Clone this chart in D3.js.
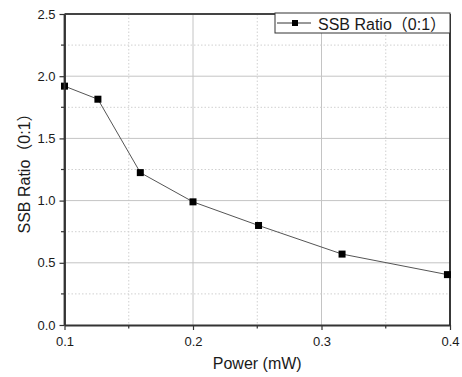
<!DOCTYPE html>
<html>
<head>
<meta charset="utf-8">
<script src="https://d3js.org/d3.v7.min.js"></script>
<style>
  body { margin: 0; background: #fff; }
  text { font-family: "Liberation Sans", Arial, "Noto Sans CJK SC", sans-serif; fill: #1a1a1a; }
</style>
</head>
<body>
<div id="chart"></div>
<script>
// Data
var powers = [0.1, 0.126, 0.159, 0.2, 0.251, 0.316, 0.398];
var ratios = [1.92, 1.815, 1.225, 0.99, 0.8, 0.57, 0.405];
var xTicks = [0.1, 0.2, 0.3, 0.4];
var xMinor = [0.15, 0.25, 0.35];
var yTicks = [0.0, 0.5, 1.0, 1.5, 2.0, 2.5];
var yMinor = [0.25, 0.75, 1.25, 1.75, 2.25];
var seriesName = "SSB Ratio\uFF080:1\uFF09";

var svgWidth = 462;
var svgHeight = 377;

var margin = { top: 14, bottom: 52, left: 64.5, right: 12 };
var width = svgWidth - margin.left - margin.right;
var height = svgHeight - margin.top - margin.bottom;

var svg = d3.select("#chart")
    .append("svg")
    .attr("width", svgWidth)
    .attr("height", svgHeight);

var chartGroup = svg.append("g")
    .attr("transform", `translate(${margin.left}, ${margin.top})`);

var xScale = d3.scaleLinear().domain([0.1, 0.4]).range([0, width]);
var yScale = d3.scaleLinear().domain([0, 2.5]).range([height, 0]);

// grid: major solid, minor dotted
chartGroup.selectAll(".vmajor").data(xTicks.slice(1, -1)).enter().append("line")
    .attr("x1", d => xScale(d)).attr("x2", d => xScale(d))
    .attr("y1", 0).attr("y2", height)
    .attr("stroke", "#c4c4c4").attr("stroke-width", 1);
chartGroup.selectAll(".vminor").data(xMinor).enter().append("line")
    .attr("x1", d => xScale(d)).attr("x2", d => xScale(d))
    .attr("y1", 0).attr("y2", height)
    .attr("stroke", "#d0d0d0").attr("stroke-width", 1).attr("stroke-dasharray", "1.5,2");
chartGroup.selectAll(".hmajor").data(yTicks.slice(1, -1)).enter().append("line")
    .attr("x1", 0).attr("x2", width)
    .attr("y1", d => yScale(d)).attr("y2", d => yScale(d))
    .attr("stroke", "#c4c4c4").attr("stroke-width", 1);
chartGroup.selectAll(".hminor").data(yMinor).enter().append("line")
    .attr("x1", 0).attr("x2", width)
    .attr("y1", d => yScale(d)).attr("y2", d => yScale(d))
    .attr("stroke", "#d0d0d0").attr("stroke-width", 1).attr("stroke-dasharray", "1.5,2");

// minor ticks
chartGroup.selectAll(".xmt").data(xMinor).enter().append("line")
    .attr("x1", d => xScale(d)).attr("x2", d => xScale(d))
    .attr("y1", height).attr("y2", height + 3.5)
    .attr("stroke", "#333").attr("stroke-width", 1.2);
chartGroup.selectAll(".ymt").data(yMinor).enter().append("line")
    .attr("x1", 0).attr("x2", -3.5)
    .attr("y1", d => yScale(d)).attr("y2", d => yScale(d))
    .attr("stroke", "#333").attr("stroke-width", 1.2);

// axes
var bottomAxis = d3.axisBottom(xScale).tickValues(xTicks).tickFormat(d3.format(".1f"))
    .tickSize(5).tickSizeOuter(0).tickPadding(7);
var leftAxis = d3.axisLeft(yScale).tickValues(yTicks).tickFormat(d3.format(".1f"))
    .tickSize(5).tickSizeOuter(0).tickPadding(4);

var xAxis = chartGroup.append("g")
    .attr("transform", `translate(0, ${height})`)
    .call(bottomAxis);
var yAxis = chartGroup.append("g").call(leftAxis);

[xAxis, yAxis].forEach(function (ax) {
    ax.select(".domain").attr("stroke", "#333").attr("stroke-width", 1.8);
    ax.selectAll(".tick line").attr("stroke", "#333").attr("stroke-width", 1.2);
    ax.selectAll(".tick text")
        .style("font-family", "'Liberation Sans', Arial, sans-serif")
        .style("font-size", "13px").attr("fill", "#1a1a1a");
});

// top and right border
chartGroup.append("line").attr("x1", 0).attr("x2", width).attr("y1", 0).attr("y2", 0)
    .attr("stroke", "#444").attr("stroke-width", 1.8);
chartGroup.append("line").attr("x1", width).attr("x2", width).attr("y1", 0).attr("y2", height)
    .attr("stroke", "#222").attr("stroke-width", 1.8);

// series
var points = powers.map((p, i) => ({ x: p, y: ratios[i] }));
var line = d3.line().x(d => xScale(d.x)).y(d => yScale(d.y));

chartGroup.append("path")
    .datum(points)
    .attr("d", line)
    .attr("fill", "none")
    .attr("stroke", "#555")
    .attr("stroke-width", 1);

chartGroup.selectAll(".pt").data(points).enter().append("rect")
    .attr("x", d => xScale(d.x) - 3.5)
    .attr("y", d => yScale(d.y) - 3.5)
    .attr("width", 7).attr("height", 7)
    .attr("fill", "#000");

// redraw left axis line over the first marker
chartGroup.append("line").attr("x1", 0).attr("x2", 0).attr("y1", 0).attr("y2", height)
    .attr("stroke", "#333").attr("stroke-width", 1.8);

// legend
var legend = svg.append("g").attr("transform", "translate(275, 13)");
legend.append("rect")
    .attr("x", 0).attr("y", 0).attr("width", 175).attr("height", 20)
    .attr("fill", "#fff").attr("stroke", "#333").attr("stroke-width", 1);
legend.append("line").attr("x1", 2).attr("x2", 36).attr("y1", 10).attr("y2", 10)
    .attr("stroke", "#333").attr("stroke-width", 1);
legend.append("rect").attr("x", 17).attr("y", 7).attr("width", 6).attr("height", 6).attr("fill", "#000");
legend.append("text")
    .attr("x", 43).attr("y", 16.5)
    .style("font-size", "16px")
    .text(seriesName);

// axis labels
svg.append("text")
    .attr("x", margin.left + width / 2)
    .attr("y", 369)
    .attr("text-anchor", "middle")
    .style("font-size", "16px")
    .text("Power (mW)");

svg.append("text")
    .attr("transform", `translate(30, ${margin.top + height / 2}) rotate(-90)`)
    .attr("text-anchor", "middle")
    .style("font-size", "16px")
    .text(seriesName);
</script>
</body>
</html>
